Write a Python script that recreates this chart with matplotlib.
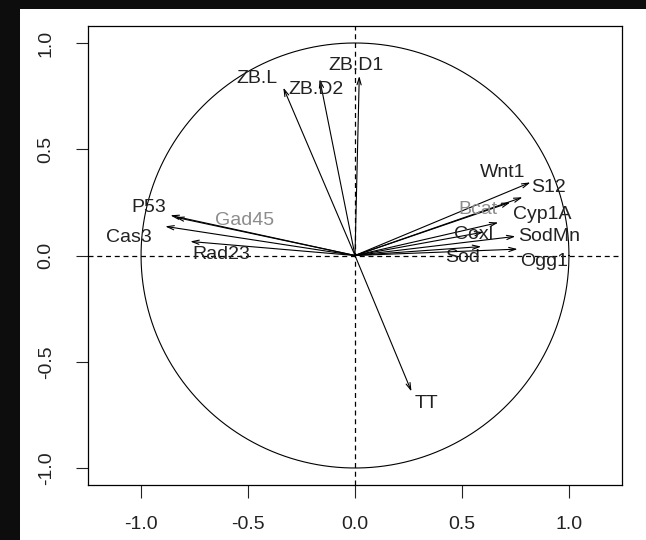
import numpy as np
import matplotlib
matplotlib.use('Agg')
import matplotlib.pyplot as plt
from matplotlib.patches import Rectangle

# variable names, arrow tips (correlations) and label positions
names = ['ZB.D1', 'ZB.D2', 'ZB.L', 'P53', 'Gad45', 'Cas3', 'Rad23', 'Wnt1',
         'S12', 'Bcat', 'Cyp1A', 'Coxl', 'SodMn', 'Sod', 'Ogg1', 'TT']
tip_x = [0.02, -0.165, -0.335, -0.863, -0.84, -0.887, -0.77, 0.783,
         0.82, 0.726, 0.67, 0.60, 0.75, 0.59, 0.76, 0.264]
tip_y = [0.845, 0.83, 0.79, 0.189, 0.18, 0.137, 0.066, 0.274,
         0.344, 0.25, 0.155, 0.11, 0.09, 0.042, 0.03, -0.64]
lab_x = [0.005, -0.18, -0.458, -0.962, -0.514, -1.057, -0.627, 0.689,
         0.906, 0.575, 0.877, 0.552, 0.906, 0.505, 0.882, 0.335]
lab_y = [0.896, 0.78, 0.835, 0.226, 0.165, 0.085, 0.005, 0.39,
         0.32, 0.217, 0.193, 0.099, 0.09, -0.01, -0.028, -0.698]
grey = ['Gad45', 'Bcat']
ticks = [-1.0, -0.5, 0.0, 0.5, 1.0]

plt.rcParams['font.family'] = ['Liberation Sans', 'DejaVu Sans']

fig = plt.figure(figsize=(6.46, 5.4), dpi=100, facecolor='#0d0d0d')
fig.patches.append(Rectangle((20 / 646, 0), 1, 531 / 540, transform=fig.transFigure,
                             facecolor='white', edgecolor='none', zorder=-10))
ax = fig.add_axes([88 / 646, 55 / 540, 534 / 646, 459 / 540])
ax.set_zorder(5)
ax.set_xlim(-1.248, 1.248)
ax.set_ylim(-1.08, 1.08)

t = np.linspace(0, 2 * np.pi, 400)
ax.plot(np.cos(t), np.sin(t), color='black', lw=0.8)
ax.axhline(0, color='black', lw=0.9, ls=(0, (4, 3)))
ax.axvline(0, color='black', lw=0.9, ls=(0, (4, 3)))

for n, x, y, lx, ly in zip(names, tip_x, tip_y, lab_x, lab_y):
    ax.annotate('', xy=(x, y), xytext=(0, 0),
                arrowprops=dict(arrowstyle='->,head_length=0.5,head_width=0.15',
                                color='black', lw=0.8, shrinkA=0, shrinkB=0))
    ax.text(lx, ly, n, ha='center', va='center', fontsize=14,
            color='#8c8c8c' if n in grey else '#222222')

ax.set_xticks(ticks)
ax.set_yticks(ticks)
ax.set_xticklabels(['%.1f' % v for v in ticks])
ax.set_yticklabels(['%.1f' % v for v in ticks], rotation=90, va='center')
ax.tick_params(direction='out', length=9, width=0.8, labelsize=14, pad=13,
               colors='#222222')
ax.tick_params(axis='y', pad=15)
for s in ax.spines.values():
    s.set_linewidth(0.9)

fig.savefig('out.png', dpi=100, facecolor=fig.get_facecolor())
